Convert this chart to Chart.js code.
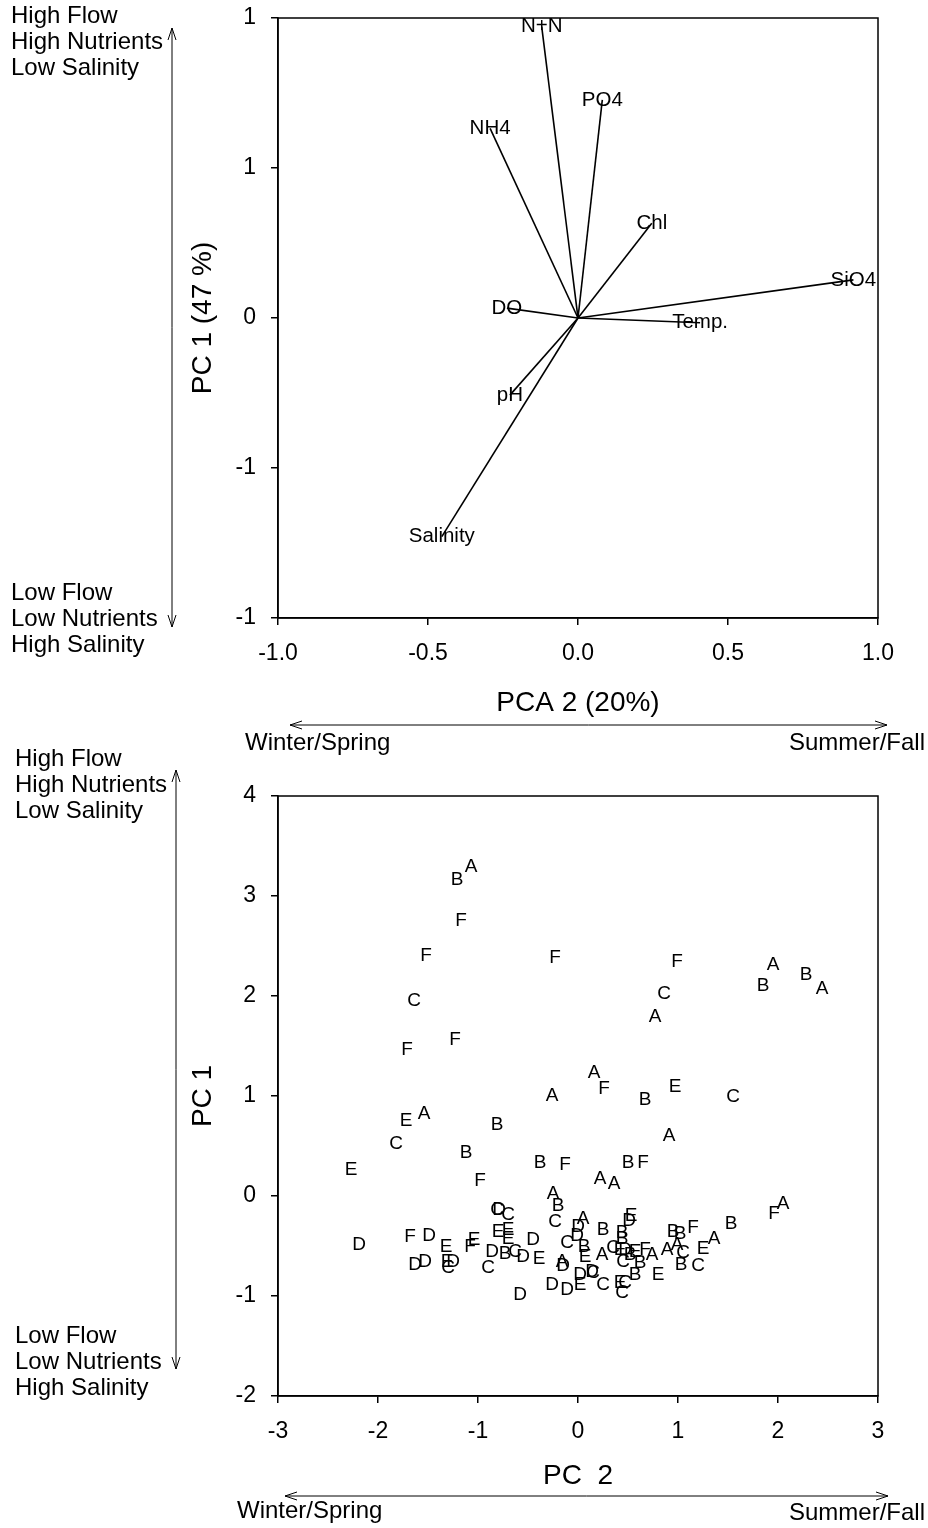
<!DOCTYPE html>
<html>
<head>
<meta charset="utf-8">
<script src="https://cdn.jsdelivr.net/npm/chart.js@4/dist/chart.umd.min.js"></script>
<style>
  html, body { margin: 0; padding: 0; background: #fff; }
  #wrap { position: relative; width: 928px; height: 1528px; overflow: hidden; }
  canvas { position: absolute; left: 0; }
  #loadings { top: 0; }
  #scores { top: 740px; }
</style>
</head>
<body>
<div id="wrap">
  <canvas id="loadings" width="928" height="760"></canvas>
  <canvas id="scores" width="928" height="788"></canvas>
</div>
<script>
// ---- Variable loadings (biplot vectors) ----
const loadingNames = ['N+N', 'PO4', 'NH4', 'Chl', 'SiO4', 'DO', 'Temp.', 'pH', 'Salinity'];
const loadingPC2 = [-0.121, 0.081, -0.293, 0.246, 0.918, -0.237, 0.407, -0.227, -0.454];
const loadingPC1 = [0.971, 0.727, 0.632, 0.316, 0.127, 0.033, -0.016, -0.257, -0.729];

// Tick labels of the loadings plot
const loadPC1Ticks = ['-1', '-1', '0', '1', '1'];
const loadPC2Ticks = ['-1.0', '-0.5', '0.0', '0.5', '1.0'];

// ---- Sample scores, labelled by site ----
const siteLetters = [
  'B','A','F','F','F','C','F','F','F','C','A','A','B','B','A','A','F','A','B','E',
  'C','E','A','B','C','A','B','E','B','F','B','F','F','A','A','A','B','A','F','B',
  'C','D','C','C','A','D','B','E','D','E','E','E','D','C','D','B','B','B','B','B',
  'F','A','D','F','D','E','F','E','D','B','C','D','E','A','D','E','A','C','E','D',
  'B','E','F','A','A','A','C','E','B','C','B','C','E','B','C','E','C','C','D','D',
  'E','C','D','C','D','D','D','E','D','C','D'
];
const scorePC2 = [
  -1.21,-1.07,-1.17,-1.52,-0.23,-1.64,-1.23,-1.71, 0.99, 0.86, 0.77, 1.95, 1.85, 2.28, 2.44, 0.16, 0.26,-0.26, 0.67, 0.97,
   1.55,-1.72,-1.54,-0.81,-1.82, 0.91,-1.12,-2.27,-0.38,-0.13, 0.50, 0.65,-0.98, 0.22, 0.36,-0.25,-0.20, 2.05, 1.96, 1.53,
  -0.81,-0.79,-0.70,-0.23, 0.05, 0.00, 0.25, 0.53, 0.51,-0.80,-0.70,-0.70,-0.45,-0.11,-0.01, 0.06, 0.44, 0.44, 0.95, 1.02,
   1.15, 1.36,-2.19,-1.68,-1.49,-1.32,-1.08,-1.04,-0.86,-0.73,-0.63,-0.55,-0.39,-0.16,-0.15, 0.07, 0.24, 0.35, 0.42, 0.47,
   0.52, 0.57, 0.67, 0.74, 0.89, 0.99, 1.05, 1.25, 0.62, 0.45, 1.03, 1.20, 0.80, 0.57, 0.47, 0.42, 0.44, 0.25,-1.63,-1.53,
  -1.31,-1.30,-1.25,-0.90,-0.58,-0.26,-0.11, 0.02, 0.02, 0.15, 0.14
];
const scorePC1 = [
   3.16, 3.29, 2.75, 2.40, 2.38, 1.95, 1.56, 1.46, 2.34, 2.02, 1.79, 2.31, 2.10, 2.21, 2.07, 1.23, 1.07, 1.00, 0.96, 1.09,
   0.99, 0.75, 0.82, 0.71, 0.52, 0.60, 0.43, 0.26, 0.33, 0.31, 0.33, 0.33, 0.15, 0.17, 0.12, 0.02,-0.10,-0.08,-0.18,-0.28,
  -0.14,-0.14,-0.19,-0.26,-0.23,-0.31,-0.34,-0.20,-0.25,-0.36,-0.34,-0.43,-0.44,-0.47,-0.40,-0.51,-0.37,-0.43,-0.36,-0.38,
  -0.32,-0.43,-0.49,-0.41,-0.40,-0.51,-0.51,-0.44,-0.56,-0.58,-0.56,-0.61,-0.63,-0.66,-0.70,-0.61,-0.59,-0.52,-0.54,-0.54,
  -0.59,-0.56,-0.54,-0.59,-0.54,-0.49,-0.57,-0.53,-0.67,-0.66,-0.69,-0.70,-0.79,-0.79,-0.87,-0.87,-0.97,-0.89,-0.69,-0.66,
  -0.66,-0.72,-0.66,-0.72,-0.99,-0.89,-0.94,-0.89,-0.79,-0.77,-0.76
];
const scoreTicksX = ['-3', '-2', '-1', '0', '1', '2', '3'];
const scoreTicksY = ['-2', '-1', '0', '1', '2', '3', '4'];

const FONT = 'Arial, "Liberation Sans", sans-serif';
Chart.defaults.font.family = FONT;
Chart.defaults.color = '#000';

function axis(min, max, step, labels, fitSize, horizontal) {
  return {
    type: 'linear',
    min: min, max: max,
    ticks: {
      stepSize: step,
      font: { size: 23 },
      color: '#000',
      padding: horizontal ? 15 : 15,
      maxRotation: 0,
      callback: (v, i) => labels[i]
    },
    grid: { display: true, drawOnChartArea: false, drawTicks: true, tickLength: 7, color: '#000', lineWidth: 1.5 },
    border: { display: true, color: '#000', width: 1.5 },
    afterFit: (s) => {
      if (horizontal) s.height = fitSize; else s.width = fitSize;
      s.paddingTop = 0; s.paddingBottom = 0; s.paddingLeft = 0; s.paddingRight = 0;
    }
  };
}

// Frame, side captions and direction arrows drawn round the plot
function arrow(ctx, x1, y1, x2, y2) {
  const head = 12, half = 4;
  ctx.beginPath();
  ctx.moveTo(x1, y1); ctx.lineTo(x2, y2);
  const ang = Math.atan2(y2 - y1, x2 - x1);
  [[x2, y2, ang], [x1, y1, ang + Math.PI]].forEach(([x, y, a]) => {
    const bx = x - Math.cos(a) * head, by = y - Math.sin(a) * head;
    const px = -Math.sin(a) * half, py = Math.cos(a) * half;
    ctx.moveTo(bx + px, by + py); ctx.lineTo(x, y); ctx.lineTo(bx - px, by - py);
  });
  ctx.stroke();
}

function decorPlugin(cfg) {
  return {
    id: 'decor',
    afterDraw(chart) {
      const ctx = chart.ctx, a = chart.chartArea, off = cfg.offset;
      ctx.save();
      ctx.strokeStyle = '#000';
      ctx.lineWidth = 1.5;
      ctx.strokeRect(a.left, a.top, a.right - a.left, a.bottom - a.top);
      ctx.fillStyle = '#000';
      ctx.textBaseline = 'middle';
      ctx.font = '24px ' + FONT;
      ctx.textAlign = 'left';
      cfg.upper.forEach((t, i) => ctx.fillText(t, cfg.sideX, cfg.upperY + i * 26 - off));
      cfg.lower.forEach((t, i) => ctx.fillText(t, cfg.sideX, cfg.lowerY + i * 26 - off));
      ctx.fillText('Winter/Spring', cfg.wsX, cfg.wsY - off);
      ctx.textAlign = 'right';
      ctx.fillText('Summer/Fall', 925, cfg.sfY - off);
      ctx.lineWidth = 1;
      arrow(ctx, cfg.vArrowX, cfg.vArrowTop - off, cfg.vArrowX, cfg.vArrowBot - off);
      arrow(ctx, cfg.hArrowL, cfg.hArrowY - off, cfg.hArrowR, cfg.hArrowY - off);
      ctx.font = '28px ' + FONT;
      ctx.textAlign = 'center';
      ctx.fillText(cfg.xTitle, (a.left + a.right) / 2, cfg.xTitleY - off);
      ctx.translate(cfg.yTitleX, (a.top + a.bottom) / 2);
      ctx.rotate(-Math.PI / 2);
      ctx.fillText(cfg.yTitle, 0, 0);
      ctx.restore();
    }
  };
}

const sideUpper = ['High Flow', 'High Nutrients', 'Low Salinity'];
const sideLower = ['Low Flow', 'Low Nutrients', 'High Salinity'];

// ---- Loadings chart ----
const vectorLabels = {
  id: 'vectorLabels',
  afterDatasetsDraw(chart) {
    const ctx = chart.ctx;
    ctx.save();
    ctx.fillStyle = '#000';
    ctx.font = '20.5px ' + FONT;
    ctx.textAlign = 'center';
    ctx.textBaseline = 'middle';
    chart.data.datasets.forEach((ds, i) => {
      const pt = chart.getDatasetMeta(i).data[1];
      ctx.fillText(ds.label, pt.x, pt.y);
    });
    ctx.restore();
  }
};

new Chart(document.getElementById('loadings'), {
  type: 'scatter',
  data: {
    datasets: loadingNames.map((n, i) => ({
      label: n,
      data: [{ x: 0, y: 0 }, { x: loadingPC2[i], y: loadingPC1[i] }],
      showLine: true,
      borderColor: '#000',
      borderWidth: 1.6,
      pointRadius: 0
    }))
  },
  options: {
    responsive: false,
    animation: false,
    events: [],
    layout: { padding: { top: 18, right: 50, left: 0, bottom: 0 } },
    plugins: { legend: { display: false }, tooltip: { enabled: false } },
    scales: {
      x: axis(-1, 1, 0.5, loadPC2Ticks, 142, true),
      y: axis(-1, 1, 0.5, loadPC1Ticks, 278, false)
    }
  },
  plugins: [vectorLabels, decorPlugin({
    offset: 0, sideX: 11, upperY: 16, lowerY: 593, upper: sideUpper, lower: sideLower,
    wsX: 245, wsY: 743, sfY: 743,
    vArrowX: 172, vArrowTop: 28, vArrowBot: 627,
    hArrowL: 290, hArrowR: 887, hArrowY: 725,
    xTitle: 'PCA 2 (20%)', xTitleY: 703, yTitle: 'PC 1 (47 %)', yTitleX: 203
  })]
});

// ---- Scores chart ----
const siteLabels = {
  id: 'siteLabels',
  afterDatasetsDraw(chart) {
    const ctx = chart.ctx;
    ctx.save();
    ctx.fillStyle = '#000';
    ctx.font = '19px ' + FONT;
    ctx.textAlign = 'center';
    ctx.textBaseline = 'middle';
    chart.getDatasetMeta(0).data.forEach((pt, i) => {
      ctx.fillText(siteLetters[i], pt.x, pt.y);
    });
    ctx.restore();
  }
};

new Chart(document.getElementById('scores'), {
  type: 'scatter',
  data: {
    datasets: [{
      label: 'Sites',
      data: scorePC2.map((x, i) => ({ x: x, y: scorePC1[i] })),
      pointRadius: 0
    }]
  },
  options: {
    responsive: false,
    animation: false,
    events: [],
    layout: { padding: { top: 56, right: 50, left: 0, bottom: 0 } },
    plugins: { legend: { display: false }, tooltip: { enabled: false } },
    scales: {
      x: axis(-3, 3, 1, scoreTicksX, 132, true),
      y: axis(-2, 4, 1, scoreTicksY, 278, false)
    }
  },
  plugins: [siteLabels, decorPlugin({
    offset: 740, sideX: 15, upperY: 759, lowerY: 1336, upper: sideUpper, lower: sideLower,
    wsX: 237, wsY: 1511, sfY: 1513,
    vArrowX: 176, vArrowTop: 770, vArrowBot: 1369,
    hArrowL: 285, hArrowR: 888, hArrowY: 1496,
    xTitle: 'PC  2', xTitleY: 1476, yTitle: 'PC 1', yTitleX: 203
  })]
});
</script>
</body>
</html>
